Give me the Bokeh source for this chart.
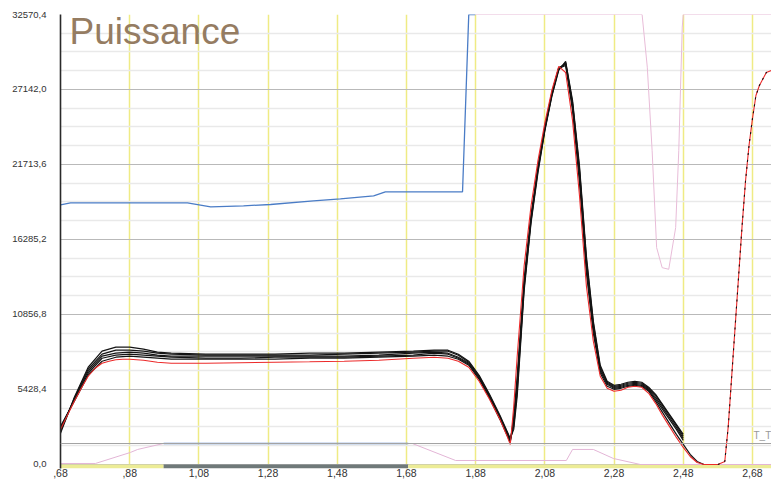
from bokeh.plotting import figure
from bokeh.models import Range1d, FixedTicker, Label, Span
from bokeh.embed import file_html
from bokeh.resources import INLINE

# ---------------- data ----------------
y_ticks = [0.0, 5428.4, 10856.8, 16285.2, 21713.6, 27142.0, 32570.4]
y_tick_labels = ["0,0", "5428,4", "10856,8", "16285,2", "21713,6", "27142,0", "32570,4"]
x_ticks = [0.68, 0.88, 1.08, 1.28, 1.48, 1.68, 1.88, 2.08, 2.28, 2.48, 2.68]
x_tick_labels = [",68", ",88", "1,08", "1,28", "1,48", "1,68", "1,88", "2,08", "2,28", "2,48", "2,68"]

x_red = [0.68, 0.70, 0.72, 0.74, 0.76, 0.78, 0.80, 0.82, 0.84, 0.86, 0.88,
         0.92, 0.96, 1.00, 1.10, 1.20, 1.30, 1.40, 1.50, 1.60, 1.70,
         1.76, 1.80, 1.83, 1.86, 1.89, 1.92, 1.95, 1.97, 1.98, 1.99, 2.00,
         2.02, 2.04, 2.06, 2.08, 2.10, 2.12, 2.14, 2.16, 2.18, 2.20,
         2.22, 2.24, 2.26, 2.28, 2.30, 2.32, 2.34, 2.36, 2.38, 2.40,
         2.42, 2.44, 2.46, 2.48, 2.50, 2.52, 2.54, 2.56, 2.58, 2.60,
         2.61, 2.62, 2.63, 2.64, 2.65, 2.66, 2.67, 2.68, 2.69, 2.70,
         2.72, 2.735]
red = [2540, 3556, 4572, 5515, 6386, 6967, 7330, 7475, 7583, 7620, 7620,
       7547, 7402, 7330, 7330, 7366, 7402, 7438, 7475, 7547, 7692,
       7765, 7692, 7475, 7039, 6023, 4717, 3266, 2105, 1451, 4209, 7838,
       14369, 18723, 21989, 24746, 27069, 28810, 28375, 24892, 19449, 12917,
       8926, 6386, 5515, 5298, 5370, 5588, 5660, 5588, 5152, 4427,
       3556, 2758, 1959, 1234, 581, 145, 0, 0, 0, 218,
       2758, 6386, 10015, 13643, 17272, 20537, 23077, 25037, 26706, 27431,
       28375, 28520]

x_black = [0.68, 0.72, 0.76, 0.80, 0.84, 0.88, 0.92, 0.96, 1.00,
           1.10, 1.20, 1.30, 1.40, 1.50, 1.60, 1.70,
           1.76, 1.80, 1.83, 1.86, 1.89, 1.92, 1.95, 1.98,
           1.99, 2.00,
           2.02, 2.04, 2.06, 2.08, 2.10, 2.12, 2.14, 2.16, 2.18, 2.20,
           2.22, 2.24, 2.26, 2.28, 2.30, 2.32, 2.34, 2.36, 2.38, 2.40,
           2.42, 2.44, 2.46, 2.48]
black_1 = [2250, 4862, 7039, 8200, 8491, 8491, 8346, 8128, 8055,
           7983, 7983, 7983, 8055, 8055, 8128, 8200,
           8273, 8273, 7983, 7475, 6459, 5080, 3556, 1887,
           2540, 4935,
           12555, 17489, 21118, 24166, 26633, 28520, 29173, 26343, 21626, 15095,
           10378, 7184, 6023, 5733, 5806, 5951, 6023, 5951, 5588, 5080,
           4354, 3629, 2903, 2177]
black_2 = [2395, 4790, 6894, 7983, 8273, 8273, 8200, 8055, 7983,
           7910, 7910, 7910, 7910, 7983, 8055, 8128,
           8200, 8200, 7910, 7402, 6386, 5007, 3483, 1814,
           2758, 5298,
           12772, 17635, 21263, 24238, 26706, 28593, 29101, 26198, 21408, 14877,
           10232, 7039, 5951, 5660, 5733, 5878, 5951, 5878, 5515, 5007,
           4282, 3556, 2830, 2032]
black_3 = [2540, 4717, 6749, 7838, 8055, 8128, 8055, 7910, 7838,
           7838, 7838, 7838, 7838, 7838, 7910, 8055,
           8128, 8055, 7765, 7330, 6314, 4935, 3411, 1742,
           3121, 5660,
           12990, 17780, 21408, 24311, 26778, 28665, 29028, 26053, 21190, 14587,
           10015, 6894, 5878, 5588, 5660, 5806, 5878, 5806, 5443, 4862,
           4136, 3411, 2685, 1887]
black_4 = [2685, 4644, 6604, 7692, 7910, 7983, 7910, 7838, 7765,
           7692, 7692, 7765, 7765, 7765, 7838, 7910,
           8055, 7983, 7692, 7257, 6241, 4862, 3338, 1669,
           3266, 6023,
           13208, 17925, 21481, 24384, 26851, 28738, 28955, 25907, 20900, 14296,
           9797, 6749, 5806, 5515, 5588, 5733, 5806, 5733, 5370, 4717,
           3991, 3266, 2540, 1742]
x_black_5_tail = [2.50, 2.52, 2.54, 2.56, 2.58]
black_5 = [2758, 4572, 6459, 7475, 7765, 7838, 7765, 7692, 7620,
           7620, 7620, 7620, 7692, 7692, 7765, 7838,
           7910, 7838, 7620, 7184, 6168, 4790, 3266, 1597,
           3483, 6386,
           13425, 18070, 21553, 24456, 26923, 28665, 28883, 25617, 20392, 13861,
           9507, 6604, 5660, 5443, 5515, 5660, 5733, 5660, 5298, 4572,
           3774, 2975, 2177, 1451,
           726, 218, 0, 0, 0]

x_blue = [0.68, 0.709, 1.047, 1.114, 1.209, 1.287, 1.411, 1.489, 1.585, 1.619, 1.842, 1.860, 1.879]
blue = [18796, 18941, 18941, 18650, 18723, 18817, 19086, 19231, 19449, 19739, 19739, 32570.4, 32570.4]

x_blue_low = [0.978, 1.685]
blue_low = [1520, 1520]

x_pink = [0.68, 0.781, 0.882, 0.903, 0.978, 1.685, 1.697, 1.822, 2.142, 2.160, 2.220, 2.278, 2.356, 2.735]
pink = [73, 73, 871, 1089, 1520, 1520, 1520, 290, 290, 1089, 1089, 435, 0, 0]

x_pink_hi = [1.879, 2.361, 2.376, 2.390, 2.403, 2.419, 2.438, 2.458, 2.467, 2.477, 2.480, 2.735]
pink_hi = [32570.4, 32570.4, 28760, 22714, 15697, 14246, 14130, 17148, 22714, 31662, 32570.4, 32570.4]

threshold = 1520
threshold_label = "T_T"
title_text = "Puissance"

# ---------------- figure ----------------
FONT = "Liberation Sans"
W, H = 771, 479
x_start, x_end = 0.68, 2.735
plot_px = 449.0            # pixels from 0 to the top tick
y_end = y_ticks[-1]
y_start = -4 * y_end / plot_px

p = figure(width=W, height=H, output_backend="svg", toolbar_location=None,
           x_range=Range1d(x_start, x_end), y_range=Range1d(y_start, y_end),
           min_border_left=60, min_border_right=0, min_border_top=14, min_border_bottom=0,
           background_fill_color="white", border_fill_color="white")
p.outline_line_color = None

xt = FixedTicker(ticks=x_ticks)
minor_y = []
for a, b in zip(y_ticks[:-1], y_ticks[1:]):
    step = (b - a) / 4
    minor_y += [a + step, a + 2 * step, a + 3 * step]
yt = FixedTicker(ticks=y_ticks, minor_ticks=minor_y)

p.xaxis.ticker = xt
p.yaxis.ticker = yt
p.xaxis.major_label_overrides = {t: s for t, s in zip(x_ticks, x_tick_labels)}
p.yaxis.major_label_overrides = {t: s for t, s in zip(y_ticks, y_tick_labels)}

p.xgrid.ticker = xt
p.ygrid.ticker = yt
p.xgrid.grid_line_color = "#efeb84"
p.xgrid.grid_line_width = 1.5
p.ygrid.grid_line_color = "#b9b9b9"
p.ygrid.grid_line_width = 1
p.ygrid.minor_grid_line_color = "#e9e9e9"
p.ygrid.minor_grid_line_width = 1.6

for ax in (p.xaxis[0], p.yaxis[0]):
    ax.major_tick_line_color = None
    ax.minor_tick_line_color = None
    ax.major_tick_out = 0
    ax.major_tick_in = 0
    ax.major_label_text_font = FONT
    ax.major_label_text_color = "#333333"
p.yaxis.axis_line_color = "#2a2a2a"
p.yaxis.axis_line_width = 1.6
p.yaxis.major_label_text_font_size = "9.5px"
p.yaxis.major_label_standoff = 10
p.xaxis.axis_line_color = None
p.xaxis.major_label_text_font_size = "10.5px"
p.xaxis.major_label_standoff = 0

# bottom strip (active range of the low blue series)
p.quad(left=[x_start, x_blue_low[0], x_blue_low[-1]],
       right=[x_blue_low[0], x_blue_low[-1], x_end],
       bottom=[y_start] * 3, top=[0, 0, 0],
       fill_color=["#ecec96", "#6f7979", "#ecec96"], line_color=None)

# threshold line
p.add_layout(Span(location=threshold, dimension="width", line_color="#a3a3a3", line_width=1.2))
p.add_layout(Label(x=2.683, y=threshold, y_offset=2, text=threshold_label,
                   text_font=FONT, text_font_size="10px", text_color="#999999",
                   text_baseline="bottom"))

# series
p.line(x_pink, pink, line_color="#e3b5d6", line_width=1)
p.line(x_pink_hi, pink_hi, line_color="#e8bcd8", line_width=1)
p.line(x_blue, blue, line_color="#4a7cc6", line_width=1.3)
p.line(x_blue_low, blue_low, line_color="#5b8ad0", line_width=1.3)

for ser in (black_1, black_2, black_3, black_4):
    p.line(x_black, ser, line_color="#141414", line_width=1.2)
p.line(x_black + x_black_5_tail, black_5, line_color="#141414", line_width=1.2)

p.line(x_red, red, line_color="#ec2a2a", line_width=1.1)
i0 = x_red.index(2.58)
p.line(x_red[i0:], red[i0:], line_color="#111111", line_width=1.1, line_dash="2 5")

# title
p.add_layout(Label(x=0.706, y=y_end, y_offset=4, text=title_text, text_font=FONT,
                   text_font_size="37px", text_color="#957c62",
                   text_baseline="top"))

open("out.html", "w").write(file_html(p, INLINE))
